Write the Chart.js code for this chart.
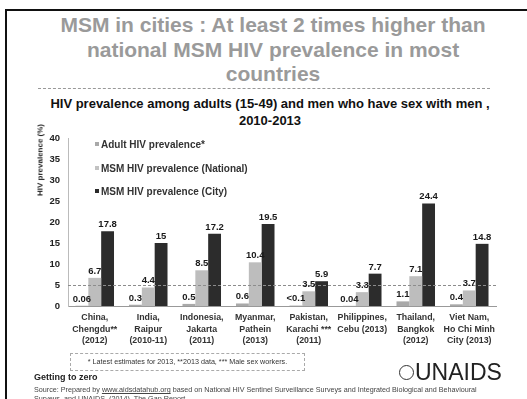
<!DOCTYPE html>
<html>
<head>
<meta charset="utf-8">
<script src="https://cdn.jsdelivr.net/npm/chart.js@4.4.0/dist/chart.umd.min.js"></script>
<style>
  html, body { margin:0; padding:0; background:#fff; }
  body { width:527px; height:399px; position:relative; overflow:hidden; font-family:"Liberation Sans", Arial, sans-serif; }
  #c { position:absolute; left:0; top:0; }
  .abs { position:absolute; }
  #frameTop { left:5px; top:9px; width:522px; height:0; border-top:2px solid #111; }
  #frameLeft { left:5px; top:9px; width:0; height:390px; border-left:2px solid #111; }
  #title { left:20px; top:13px; width:506px; text-align:center; color:#9a9a9a; font-size:21px; font-weight:bold; line-height:24.5px; white-space:nowrap; }
  #sep { left:38px; top:88px; width:452px; height:0; border-top:1px dashed #999; }
  #sub { left:17px; top:95px; width:506px; text-align:center; color:#111; font-weight:bold; font-size:13px; line-height:17px; white-space:nowrap; }
  #ytitle { left:40px; top:160px; transform:translate(-50%,-50%) rotate(-90deg); white-space:nowrap; font-size:8px; font-weight:bold; color:#222; }
  .leg { left:95px; font-size:10px; font-weight:bold; color:#333; white-space:nowrap; }
  .leg span { display:inline-block; width:4px; height:4px; margin-right:2px; vertical-align:middle; position:relative; top:-1px; }
  #note { left:70px; top:353px; width:233px; height:16px; border:1px dashed #aaa; font-size:7.2px; color:#333; text-align:center; line-height:16px; white-space:nowrap; }
  #gtz { left:34px; top:372px; font-size:9px; font-weight:bold; color:#222; }
  #src { left:34px; top:386px; width:480px; font-size:7.2px; color:#444; line-height:8.5px; white-space:nowrap; }
  #logo { left:399px; top:359px; font-size:23px; color:#222; white-space:nowrap; }
  #logo i { display:inline-block; width:15px; height:15px; border:1.5px solid #333; border-radius:50%; vertical-align:0px; margin-right:1px; box-sizing:border-box; position:relative; }
</style>
</head>
<body>
<div id="frameTop" class="abs"></div>
<div id="frameLeft" class="abs"></div>
<div id="title" class="abs">MSM in cities : At least 2 times higher than<br>national MSM HIV prevalence in most<br>countries</div>
<div id="sep" class="abs"></div>
<div id="sub" class="abs">HIV prevalence among adults (15-49) and men who have sex with men ,<br>2010-2013</div>
<canvas id="c" width="527" height="399"></canvas>
<div id="ytitle" class="abs">HIV prevalence (%)</div>
<div class="abs leg" style="top:139px"><span style="background:#a9a9a9"></span>Adult HIV prevalence*</div>
<div class="abs leg" style="top:163px"><span style="background:#c2c2c2"></span>MSM HIV prevalence (National)</div>
<div class="abs leg" style="top:186px"><span style="background:#2a2a2a"></span>MSM HIV prevalence (City)</div>
<div id="note" class="abs">* Latest estimates for 2013, **2013 data, *** Male sex workers.</div>
<div id="gtz" class="abs">Getting to zero</div>
<div id="src" class="abs">Source: Prepared by <u>www.aidsdatahub.org</u> based on National HIV Sentinel Surveillance Surveys and Integrated Biological and Behavioural<br>Surveys, and UNAIDS. (2014). The Gap Report.</div>
<div id="logo" class="abs"><i></i>UNAIDS</div>
<script>
const categories = [
  ["China,", "Chengdu**", "(2012)"],
  ["India,", "Raipur", "(2010-11)"],
  ["Indonesia,", "Jakarta", "(2011)"],
  ["Myanmar,", "Pathein", "(2013)"],
  ["Pakistan,", "Karachi ***", "(2011)"],
  ["Philippines,", "Cebu (2013)"],
  ["Thailand,", "Bangkok", "(2012)"],
  ["Viet Nam,", "Ho Chi Minh", "City (2013)"]
];
const adultValues = [0.06, 0.3, 0.5, 0.6, 0.1, 0.04, 1.1, 0.4];
const adultLabels = ["0.06", "0.3", "0.5", "0.6", "<0.1", "0.04", "1.1", "0.4"];
const nationalValues = [6.7, 4.4, 8.5, 10.4, 3.5, 3.3, 7.1, 3.7];
const cityValues = [17.8, 15, 17.2, 19.5, 5.9, 7.7, 24.4, 14.8];
const yTicks = [0, 5, 10, 15, 20, 25, 30, 35, 40];
const referenceLevel = 5;

const labelPlugin = {
  id: 'valueLabels',
  afterDatasetsDraw(chart) {
    const ctx = chart.ctx;
    const area = chart.chartArea;
    const y = chart.scales.y.getPixelForValue(referenceLevel);
    ctx.save();
    ctx.strokeStyle = '#8c8c8c';
    ctx.lineWidth = 1;
    ctx.setLineDash([3, 2]);
    ctx.beginPath();
    ctx.moveTo(area.left, Math.round(y) + 0.5);
    ctx.lineTo(area.right, Math.round(y) + 0.5);
    ctx.stroke();
    ctx.setLineDash([]);
    ctx.font = 'bold 9.5px "Liberation Sans", Arial, sans-serif';
    ctx.fillStyle = '#1a1a1a';
    ctx.textAlign = 'center';
    ctx.textBaseline = 'bottom';
    chart.data.datasets.forEach((ds, di) => {
      const meta = chart.getDatasetMeta(di);
      meta.data.forEach((el, i) => {
        const txt = ds.labelText ? ds.labelText[i] : String(ds.data[i]);
        ctx.fillText(txt, el.x, el.y - 2);
      });
    });
    ctx.restore();
  }
};

new Chart(document.getElementById('c'), {
  type: 'bar',
  data: {
    labels: categories,
    datasets: [
      { label: 'Adult HIV prevalence*', data: adultValues, labelText: adultLabels, backgroundColor: '#a9a9a9' },
      { label: 'MSM HIV prevalence (National)', data: nationalValues, backgroundColor: '#bdbdbd' },
      { label: 'MSM HIV prevalence (City)', data: cityValues, backgroundColor: '#2c2c2c' }
    ]
  },
  options: {
    responsive: false,
    animation: false,
    layout: { padding: { top: 138, left: 20, right: 31, bottom: 43 } },
    plugins: { legend: { display: false }, tooltip: { enabled: false }, title: { display: false } },
    datasets: { bar: { barPercentage: 1.0, categoryPercentage: 0.72 } },
    scales: {
      x: {
        afterFit: s => { s.height = 50; },
        grid: { display: false, drawTicks: false },
        border: { display: true, color: '#999', dash: [2, 2] },
        ticks: {
          padding: 6,
          maxRotation: 0, autoSkip: false,
          color: '#333',
          font: { family: '"Liberation Sans", Arial, sans-serif', size: 8.8, weight: 'bold', lineHeight: 1.3 }
        }
      },
      y: {
        min: 0, max: 40,
        afterFit: s => { s.width = 48; },
        afterBuildTicks: s => { s.ticks = yTicks.map(v => ({ value: v })); },
        grid: { display: false, drawTicks: false },
        border: { display: true, color: '#bbb', dash: [1, 2] },
        ticks: {
          padding: 8,
          color: '#222',
          font: { family: '"Liberation Sans", Arial, sans-serif', size: 9.5, weight: 'bold' }
        }
      }
    }
  },
  plugins: [labelPlugin]
});
</script>
</body>
</html>
